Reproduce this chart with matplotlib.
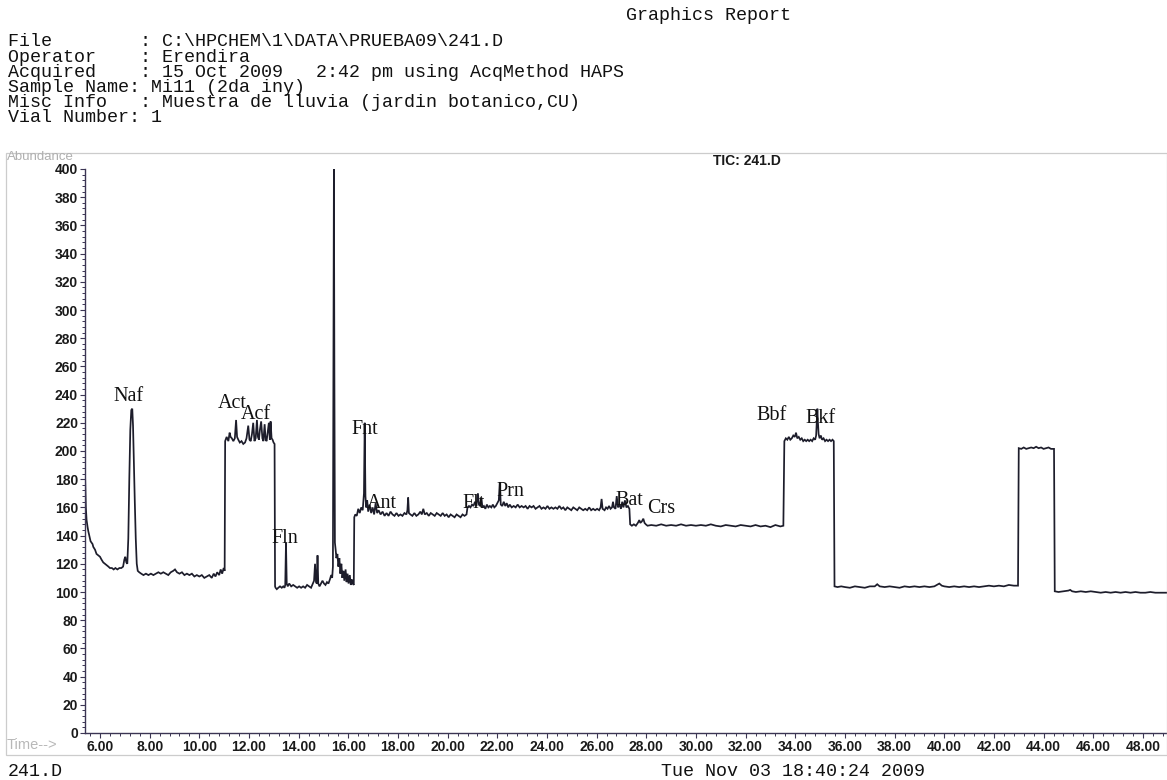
import numpy as np
import matplotlib
matplotlib.use("Agg")
import matplotlib.pyplot as plt
from matplotlib.patches import Rectangle
from matplotlib.ticker import MultipleLocator, FormatStrFormatter

W, H = 1167, 780

# ---- TIC trace, split into retention-time regions (min, abundance) ----
t_early = [5.40, 5.43, 5.46, 5.50, 5.53, 5.58, 5.62, 5.66, 5.70, 5.73, 5.80, 5.86, 5.93, 6.00,
           6.06, 6.13, 6.20, 6.27, 6.34, 6.40, 6.48, 6.55, 6.62, 6.70, 6.78, 6.86, 6.93, 6.98,
           7.02, 7.06, 7.10, 7.14, 7.18, 7.22, 7.26, 7.30, 7.33, 7.36, 7.40, 7.44, 7.48, 7.52,
           7.58, 7.66, 7.75, 7.85, 7.95, 8.05, 8.15, 8.25, 8.35, 8.45, 8.55, 8.65, 8.75, 8.85,
           8.95, 9.02, 9.10, 9.20, 9.30, 9.40, 9.50, 9.60, 9.70, 9.80, 9.90, 10.00, 10.10,
           10.20, 10.30, 10.40, 10.50, 10.58, 10.65, 10.72, 10.80, 10.86, 10.92, 10.98, 11.02]
a_early = [182, 160, 151, 146, 143, 139, 136, 135, 134, 132, 130, 127, 126, 125,
           123, 121, 120, 119, 118, 117, 117, 116, 117, 116, 117, 117, 118, 123,
           125, 121, 120, 138, 180, 215, 229, 230, 218, 195, 165, 138, 120, 115,
           114, 113, 112, 113, 112, 113, 112, 113, 114, 113, 114, 113, 112, 114,
           115, 116, 114, 113, 114, 112, 113, 112, 113, 111, 112, 111, 112,
           110, 111, 112, 110, 113, 111, 114, 112, 116, 113, 117, 115]

t_acenaph = [11.04, 11.10, 11.17, 11.22, 11.26, 11.31, 11.37, 11.43, 11.48, 11.52, 11.57, 11.63,
             11.70, 11.77, 11.84, 11.90, 11.97, 12.02, 12.07, 12.12, 12.17, 12.22, 12.27, 12.32,
             12.36, 12.40, 12.44, 12.49, 12.54, 12.58, 12.63, 12.67, 12.71, 12.75, 12.80, 12.84,
             12.87, 12.91, 12.95, 12.99, 13.03]
a_acenaph = [207, 210, 207, 213, 210, 209, 207, 209, 222, 210, 208, 206,
             207, 205, 206, 209, 218, 208, 207, 212, 220, 207, 209, 222,
             210, 208, 215, 221, 209, 207, 219, 208, 207, 213, 220, 208,
             221, 209, 208, 206, 205]

t_fluorene = [13.05, 13.07, 13.12, 13.18, 13.25, 13.32, 13.38, 13.43, 13.46, 13.49, 13.52, 13.56,
              13.62, 13.70, 13.78, 13.86, 13.94, 14.02, 14.10, 14.18, 14.26, 14.34, 14.42, 14.50,
              14.57, 14.62, 14.66, 14.70, 14.73, 14.76, 14.79, 14.84, 14.90, 14.96, 15.02, 15.08,
              15.14, 15.20, 15.26, 15.31, 15.35, 15.38, 15.40, 15.42, 15.44, 15.46, 15.49, 15.52,
              15.56, 15.60, 15.64, 15.68, 15.72, 15.76, 15.80, 15.84, 15.89, 15.93, 15.97, 16.01,
              16.06, 16.10, 16.14, 16.18, 16.22]
a_fluorene = [104, 103, 102, 103, 104, 103, 104, 103, 105, 135, 106, 104,
              106, 104, 105, 104, 103, 104, 103, 104, 103, 105, 104, 103,
              106, 108, 120, 107, 106, 126, 106, 104, 106, 108, 106, 105,
              107, 106, 109, 112, 110, 118, 250, 402, 250, 135, 130, 124,
              127, 118, 124, 113, 120, 110, 115, 108, 116, 107, 113, 106,
              112, 105, 109, 106, 105]

t_pah = [16.24, 16.28, 16.34, 16.40, 16.46, 16.52, 16.58, 16.63, 16.66, 16.69, 16.72, 16.76,
         16.80, 16.86, 16.92, 16.98, 17.04, 17.10, 17.16, 17.22, 17.30, 17.38, 17.46, 17.54,
         17.62, 17.70, 17.78, 17.86, 17.94, 18.02, 18.10, 18.18, 18.26, 18.34, 18.38, 18.41,
         18.44, 18.50, 18.58, 18.66, 18.74, 18.82, 18.90, 18.96, 19.02, 19.08, 19.16, 19.24,
         19.32, 19.40, 19.48, 19.56, 19.64, 19.72, 19.80, 19.88, 19.96, 20.04, 20.12, 20.20,
         20.28, 20.36, 20.44, 20.52, 20.60, 20.68, 20.76, 20.80, 20.86, 20.92, 20.98, 21.04,
         21.10, 21.16, 21.22, 21.26, 21.30, 21.36, 21.40, 21.46, 21.52, 21.58, 21.64, 21.70,
         21.76, 21.82, 21.88, 21.94, 22.00, 22.06, 22.10, 22.14, 22.20, 22.26, 22.32, 22.38,
         22.44, 22.50, 22.58, 22.66, 22.74, 22.82, 22.90, 22.98, 23.06, 23.14, 23.22, 23.30,
         23.38, 23.46, 23.54, 23.62, 23.70, 23.78, 23.86, 23.94, 24.02, 24.10, 24.18, 24.26,
         24.34, 24.42, 24.50, 24.58, 24.66, 24.74, 24.82, 24.90, 24.98, 25.06, 25.14, 25.22,
         25.30, 25.38, 25.46, 25.54, 25.62, 25.70, 25.78, 25.86, 25.94, 26.02, 26.10, 26.16,
         26.20, 26.24, 26.32, 26.38, 26.44, 26.50, 26.56, 26.62, 26.66, 26.70, 26.76, 26.81,
         26.86, 26.92, 26.98, 27.03, 27.08, 27.14, 27.20, 27.26, 27.32]
a_pah = [153, 155, 154, 159, 156, 160, 158, 170, 220, 168, 160, 165,
         157, 162, 156, 160, 155, 163, 156, 158, 155, 157, 154, 156,
         154, 157, 155, 154, 156, 154, 155, 154, 156, 155, 158, 167,
         156, 155, 154, 156, 154, 155, 157, 155, 159, 155, 156, 154,
         156, 155, 154, 156, 155, 154, 156, 154, 155, 153, 155, 154,
         153, 155, 154, 153, 155, 154, 155, 160, 161, 160, 162, 161,
         164, 161, 170, 162, 161, 167, 160, 161, 159, 162, 160, 161,
         160, 162, 160, 161, 163, 165, 178, 162, 161, 164, 161, 163,
         160, 162, 160, 161, 160, 162, 160, 161, 160, 161, 159, 161,
         160, 161, 159, 160, 161, 159, 160, 159, 161, 159, 160, 159,
         160, 159, 161, 159, 160, 158, 160, 159, 158, 160, 159, 158,
         160, 159, 158, 159, 158, 160, 158, 159, 158, 159, 158, 160,
         166, 159, 158, 160, 159, 161, 159, 160, 164, 160, 159, 168,
         160, 162, 159, 164, 160, 165, 160, 161, 159]

t_chrysene = [27.35, 27.42, 27.50, 27.58, 27.66, 27.72, 27.76, 27.82, 27.88, 27.93, 27.98, 28.05,
              28.20, 28.40, 28.60, 28.80, 29.00, 29.20, 29.40, 29.60, 29.80, 30.00, 30.20, 30.40,
              30.60, 30.80, 31.00, 31.20, 31.40, 31.60, 31.80, 32.00, 32.20, 32.40, 32.60, 32.80,
              33.00, 33.20, 33.40, 33.52]
a_chrysene = [148, 147, 148, 147, 149, 151, 149, 150, 152, 149, 148, 147,
              147.5, 147, 148, 147, 147.5, 147, 148, 147, 147.5, 147, 147.5, 147,
              148, 147, 146.5, 147.5, 147, 146.5, 147.5, 147, 146.5, 147.5, 146.5, 147,
              146, 147.5, 146.5, 147]

t_benzofl = [33.56, 33.62, 33.68, 33.74, 33.80, 33.86, 33.92, 33.98, 34.03, 34.08, 34.14, 34.20,
             34.26, 34.32, 34.38, 34.44, 34.50, 34.56, 34.62, 34.68, 34.74, 34.80, 34.84, 34.87,
             34.89, 34.91, 34.94, 34.98, 35.03, 35.08, 35.14, 35.20, 35.26, 35.32, 35.38, 35.44,
             35.50, 35.55]
a_benzofl = [207, 209, 208, 210, 208, 209, 211, 210, 213, 209, 210, 208,
             209, 207, 208, 207, 208, 207, 208, 207, 209, 208, 211, 222,
             230, 221, 212, 209, 211, 208, 209, 207, 208, 207, 208, 207,
             208, 207]

t_late = [35.58, 35.70, 35.85, 36.00, 36.20, 36.40, 36.60, 36.80, 37.00, 37.20, 37.30, 37.40,
          37.60, 37.80, 38.00, 38.20, 38.40, 38.60, 38.80, 39.00, 39.20, 39.40, 39.60, 39.80,
          39.90, 40.00, 40.20, 40.40, 40.60, 40.80, 41.00, 41.20, 41.40, 41.60, 41.80, 42.00,
          42.20, 42.40, 42.60, 42.80, 42.97]
a_late = [104, 103.5, 104, 103.5, 103, 104, 103.5, 103, 104, 104, 105.5, 104,
          103.5, 104, 103.5, 103, 104, 103.5, 104, 103.5, 104, 103.5, 104, 106,
          104.5, 104, 103.5, 104, 103.5, 104, 103.5, 104, 103.5, 104, 104.5, 104,
          104.5, 104, 105, 104.5, 104.5]

t_plateau = [43.00, 43.10, 43.20, 43.30, 43.40, 43.50, 43.60, 43.70, 43.80, 43.90, 44.00, 44.10,
             44.20, 44.30, 44.42]
a_plateau = [202, 201.5, 202.5, 201.5, 202, 202.5, 202, 203, 202, 202.5, 201.5, 202,
             202.5, 201.5, 201.5]

t_end = [44.45, 44.60, 44.80, 45.00, 45.07, 45.15, 45.30, 45.50, 45.70, 45.90, 46.10, 46.30,
         46.50, 46.70, 46.90, 47.10, 47.30, 47.50, 47.70, 47.90, 48.10, 48.30, 48.50, 48.70,
         48.97]
a_end = [100.5, 100, 100.5, 101, 101.5, 100.5, 100, 100.5, 100, 100.5, 100, 99.5,
         100, 99.5, 100, 99.5, 100, 99.5, 100, 99.5, 99.5, 100, 99.5, 99.5,
         99.5]

# ---- compound labels ----
peak_names = ["Naf", "Act", "Acf", "Fln", "Fnt", "Ant", "Flt", "Prn", "Bat", "Crs", "Bbf", "Bkf"]
peak_label_t = [7.13, 11.32, 12.29, 13.45, 16.67, 17.36, 21.06, 22.51, 27.30, 28.59, 33.06, 35.03]
peak_label_a = [239, 234, 226, 138, 215, 163, 163, 171, 165, 159, 225, 223]

header_fields = ["File        : C:\\HPCHEM\\1\\DATA\\PRUEBA09\\241.D",
                 "Operator    : Erendira",
                 "Acquired    : 15 Oct 2009   2:42 pm using AcqMethod HAPS",
                 "Sample Name: Mi11 (2da iny)",
                 "Misc Info   : Muestra de lluvia (jardin botanico,CU)",
                 "Vial Number: 1"]

time = np.concatenate([t_early, t_acenaph, t_fluorene, t_pah, t_chrysene,
                       t_benzofl, t_late, t_plateau, t_end])
abund = np.concatenate([a_early, a_acenaph, a_fluorene, a_pah, a_chrysene,
                        a_benzofl, a_late, a_plateau, a_end])

MONO = "Liberation Mono"
SANS = "Liberation Sans"
SERIF = "Liberation Serif"
MONO_SIZE = 13.2


def fx(px):
    return px / W


def fy(py):
    return 1 - py / H


fig = plt.figure(figsize=(W / 100, H / 100), dpi=100)
fig.patch.set_facecolor("white")

# report header
fig.text(fx(626), fy(15), "Graphics Report", family=MONO, fontsize=MONO_SIZE,
         ha="left", va="center", color="#111111")
for i, line in enumerate(header_fields):
    fig.text(fx(8), fy(42 + i * 15.2), line, family=MONO, fontsize=MONO_SIZE,
             ha="left", va="center", color="#111111")

# light frame around the plot region
fig.patches.append(Rectangle((fx(6), fy(755)), fx(1167) - fx(6), fy(153) - fy(755),
                             transform=fig.transFigure, fill=False,
                             edgecolor="#cccccc", linewidth=0.9))

ax = fig.add_axes([fx(85), fy(733), 1 - fx(85), fy(169) - fy(733)])
ax.plot(time, abund, color="#1d1d2b", linewidth=1.25, solid_joinstyle="miter")
ax.set_xlim(5.396, 48.97)
ax.set_ylim(0, 400)

for side in ("top", "right"):
    ax.spines[side].set_visible(False)
for side in ("left", "bottom"):
    ax.spines[side].set_color("#3b3553")
    ax.spines[side].set_linewidth(1.0)

ax.xaxis.set_major_locator(MultipleLocator(2))
ax.xaxis.set_minor_locator(MultipleLocator(0.4))
ax.xaxis.set_major_formatter(FormatStrFormatter("%.2f"))
ax.yaxis.set_major_locator(MultipleLocator(20))
ax.yaxis.set_minor_locator(MultipleLocator(4))
ax.yaxis.set_major_formatter(FormatStrFormatter("%d"))
ax.tick_params(axis="both", which="major", direction="out", length=3.5, width=0.8,
               color="#3b3553", labelsize=10, labelcolor="#1a1a1a", pad=1.5)
ax.tick_params(axis="both", which="minor", direction="out", length=2.2, width=0.7,
               color="#3b3553")
ax.set_xticks([v for v in np.arange(6, 50, 2)])
for lab in ax.get_xticklabels() + ax.get_yticklabels():
    lab.set_family(SANS)
    lab.set_fontweight("bold")

for name, t, a in zip(peak_names, peak_label_t, peak_label_a):
    ax.text(t, a, name, family=SERIF, fontsize=14.5, ha="center", va="center",
            color="#111111")

fig.text(fx(7), fy(160), "Abundance", family=SANS, fontsize=9.5, color="#b0b0b0",
         ha="left", va="baseline")
fig.text(fx(7), fy(745), "Time-->", family=SANS, fontsize=10.5, color="#b8b8b8",
         ha="left", va="center")
fig.text(fx(747), fy(161), "TIC: 241.D", family=SANS, fontsize=10, weight="bold",
         color="#1a1a1a", ha="center", va="center")

fig.text(fx(8), fy(771), "241.D", family=MONO, fontsize=MONO_SIZE, color="#111111",
         ha="left", va="center")
fig.text(fx(661), fy(771), "Tue Nov 03 18:40:24 2009", family=MONO, fontsize=MONO_SIZE,
         color="#111111", ha="left", va="center")

fig.savefig("out.png", dpi=100, facecolor="white")
